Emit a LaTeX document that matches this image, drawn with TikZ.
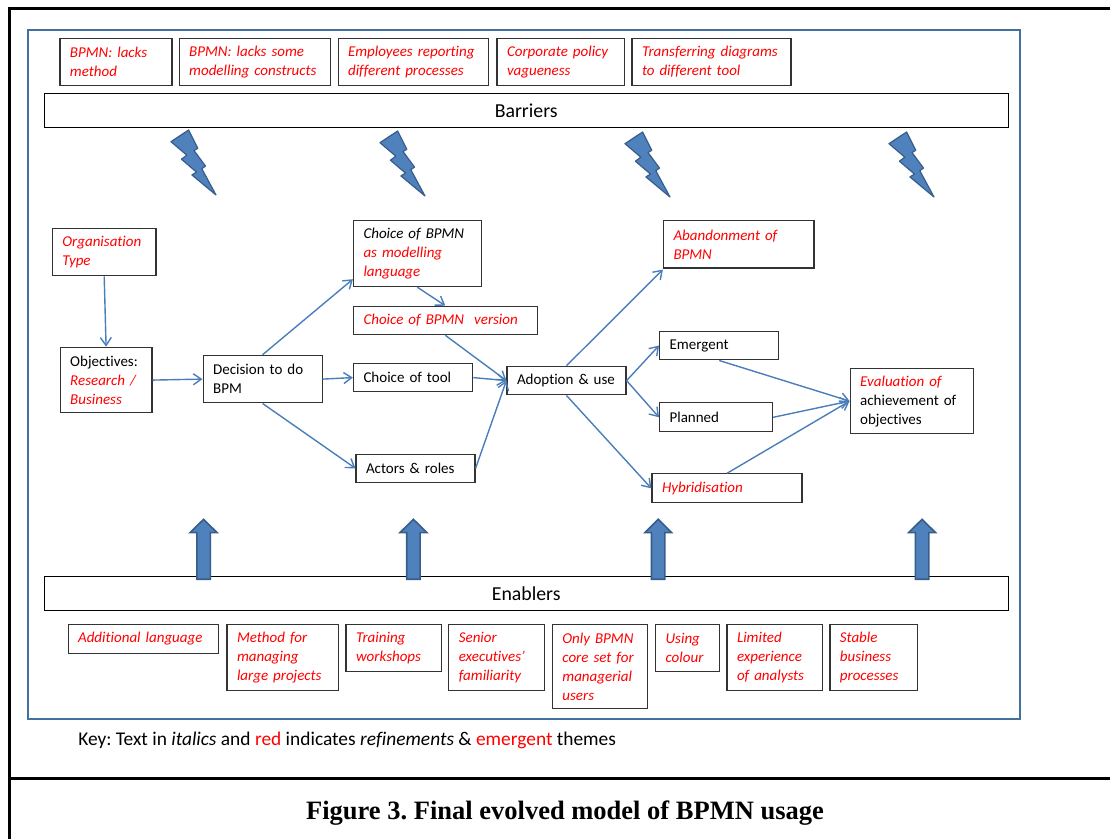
\documentclass[tikz,border=0pt]{standalone}
\usepackage{fontspec}
\setmainfont{Carlito}[Ligatures=NoCommon]
\newfontfamily\capfont{Liberation Serif}
\usetikzlibrary{arrows.meta,positioning}
\hyphenpenalty=10000
\frenchspacing
\definecolor{frameBlue}{RGB}{65,113,156}
\definecolor{linkBlue}{RGB}{74,126,187}
\definecolor{boltFill}{RGB}{79,129,189}
\definecolor{boltLine}{RGB}{56,93,138}
\newcommand{\bfnt}{\fontsize{7.5}{9.5}\selectfont}
\newcommand{\rd}[1]{\textcolor{red}{\itshape #1}}
\tikzstyle{bS}=[draw=black!80, line width=0.6pt, inner xsep=5pt, inner ysep=1pt, anchor=north west, align=left, font=\bfnt]
\tikzstyle{rS}=[bS, text=red, font=\bfnt\itshape]
\tikzstyle{barS}=[draw=black, line width=0.6pt, anchor=north west, inner sep=0pt, font=\fontsize{9.9}{11}\selectfont]
\tikzstyle{eArr}=[draw=linkBlue, line width=0.7pt, -{Straight Barb[length=4pt,width=5.5pt]}]
\tikzstyle{boltS}=[fill=boltFill, draw=boltLine, line width=0.6pt, line join=round]
\tikzstyle{upS}=[fill=boltFill, draw=boltLine, line width=0.8pt]
\begin{document}
\begin{tikzpicture}[x=0.5pt,y=-0.5pt]
\useasboundingbox (0,0) rectangle (1110,839);
% outer frame and blue panel
\draw[line width=1.5pt] (1110,9) -- (9.6,9) -- (9.6,839);
\draw[line width=1.5pt] (9.6,779) -- (1110,779);
\draw[frameBlue, line width=1.2pt] (27.9,30) rectangle (1020,719);
% barriers
\draw (59.3,37.7) node[rS, text width=46pt, minimum height=23.8pt] (bA) {BPMN: lacks\\method};
\draw (178.6,37.7) node[rS, text width=65.5pt, minimum height=23.8pt] (bB) {BPMN: lacks some\\modelling constructs};
\draw (337.5,37.7) node[rS, text width=65.3pt, minimum height=23.8pt] (bC) {Employees reporting\\different processes};
\draw (496.4,37.7) node[rS, text width=53.6pt, minimum height=23.8pt] (bD) {Corporate policy\\vagueness};
\draw (631.4,37.7) node[rS, text width=69.5pt, minimum height=23.8pt] (bE) {Transferring diagrams\\to different tool};
\draw (43.6,93.3) node[barS, minimum width=482pt, minimum height=17pt] (bar) {Barriers};
\foreach \bx/\by in {171/130,380/131,625/132,889/132}{
  \draw[boltS, shift={(\bx,\by)}] (17.6,0) -- (26.8,18.3) -- (23,20.5) -- (34.5,36.1) -- (30.8,38.7) -- (45,65)
    -- (20.9,44.9) -- (25.5,42.1) -- (10.4,29.2) -- (15.8,25.2) -- (0,11.7) -- cycle;
}
% process
\draw (51.8,228.3) node[rS, text width=41.8pt, minimum height=23.4pt] (org) {Organisation\\Type};
\draw (59.6,346.7) node[bS, text width=35.9pt, minimum height=32.8pt] (obj) {Objectives:\\\rd{Research /}\\\rd{Business}};
\draw (202.5,354.7) node[bS, text width=49.5pt, minimum height=23.8pt] (dec) {Decision to do\\BPM};
\draw (352.9,220) node[bS, text width=53.8pt, minimum height=33pt] (lang) {\textit{Choice of BPMN}\\\rd{as modelling}\\\rd{language}};
\draw (352.9,305.7) node[rS, text width=81.8pt, minimum height=14.2pt] (ver) {Choice of BPMN~ version};
\draw (352.9,362.7) node[bS, text width=49.6pt, minimum height=14.3pt] (tool) {Choice of tool};
\draw (355.4,453.7) node[bS, text width=49.5pt, minimum height=14pt] (act) {Actors \& roles};
\draw (506.4,365.7) node[bS, text width=49.5pt, minimum height=14.3pt] (adopt) {Adoption \& use};
\draw (662.9,220) node[rS, text width=65.2pt, minimum height=23.7pt] (aband) {Abandonment of\\BPMN};
\draw (659,330.7) node[bS, text width=49.6pt, minimum height=14.3pt] (emerg) {Emergent};
\draw (659,402.3) node[bS, text width=46.5pt, minimum height=14.4pt] (plan) {Planned};
\draw (651.4,473.3) node[rS, text width=65pt, minimum height=14.5pt] (hyb) {Hybridisation};
\draw (849.6,367.7) node[bS, text width=51.7pt, minimum height=32.8pt] (eval) {\rd{Evaluation of}\\achievement of\\objectives};
\path
    (org.south) edge[eArr] (obj.north)
    (obj.east) edge[eArr] (dec.west)
    (dec.north) edge[eArr] ([yshift=4pt]lang.south west)
    (dec.east) edge[eArr] (tool.west)
    (dec.south) edge[eArr] (act.west)
    (lang.south) edge[eArr] (ver.north)
    (ver.south) edge[eArr] (adopt.west)
    (tool.east) edge[eArr] (adopt.west)
    (act.east) edge[eArr] (adopt.west)
    (adopt.north) edge[eArr] ([yshift=-0.5pt]aband.south west)
    (adopt.east) edge[eArr] (emerg.west)
    (adopt.east) edge[eArr] (plan.west)
    (adopt.south) edge[eArr] (hyb.west)
    (emerg.south) edge[eArr] (eval.west)
    (plan.east) edge[eArr] (eval.west)
    (hyb.north) edge[eArr] (eval.west)
;
% enablers
\draw (43.6,576.3) node[barS, minimum width=482pt, minimum height=16.9pt] (enab) {Enablers};
\foreach \ax in {203.6,413.4,658.2,922.1}{
  \draw[upS] (\ax-6.7,579.3) -- (\ax-6.7,532.7) -- (\ax-13.5,532.7) -- (\ax,519.3) -- (\ax+13.5,532.7)
    -- (\ax+6.7,532.7) -- (\ax+6.7,579.3) -- cycle;
}
\draw (67.5,623.7) node[rS, text width=65.3pt, minimum height=14.5pt] (eA) {Additional language};
\draw (226.4,623.7) node[rS, text width=45.6pt, minimum height=33.2pt] (eB) {Method for\\managing\\large projects};
\draw (345.4,623.7) node[rS, text width=37.8pt, minimum height=23.8pt] (eC) {Training\\workshops};
\draw (448.2,623.7) node[rS, text width=38pt, minimum height=33.2pt] (eD) {Senior\\executives’\\familiarity};
\draw (551.8,623.7) node[rS, text width=37.7pt, minimum height=42.3pt] (eE) {Only BPMN\\\mbox{core set for}\\managerial\\users};
\draw (655,623.7) node[rS, text width=21.8pt, minimum height=23.8pt] (eF) {Using\\colour};
\draw (726.4,623.7) node[rS, text width=37.7pt, minimum height=33.2pt] (eG) {Limited\\experience\\of analysts};
\draw (829.3,623.7) node[rS, text width=33.9pt, minimum height=33.2pt] (eH) {Stable\\business\\processes};
% key and caption
\draw (77.9,740) node[anchor=west, inner sep=0pt, font=\fontsize{9.7}{11}\selectfont] (key)
    {Key: Text in \textit{italics} and \textcolor{red}{red} indicates \textit{refinements} \& \textcolor{red}{emergent} themes};
\draw (565,813) node[inner sep=0pt, font=\capfont\bfseries\fontsize{13.25}{15}\selectfont] (cap)
    {Figure 3. Final evolved model of BPMN usage};
\end{tikzpicture}
\end{document}
